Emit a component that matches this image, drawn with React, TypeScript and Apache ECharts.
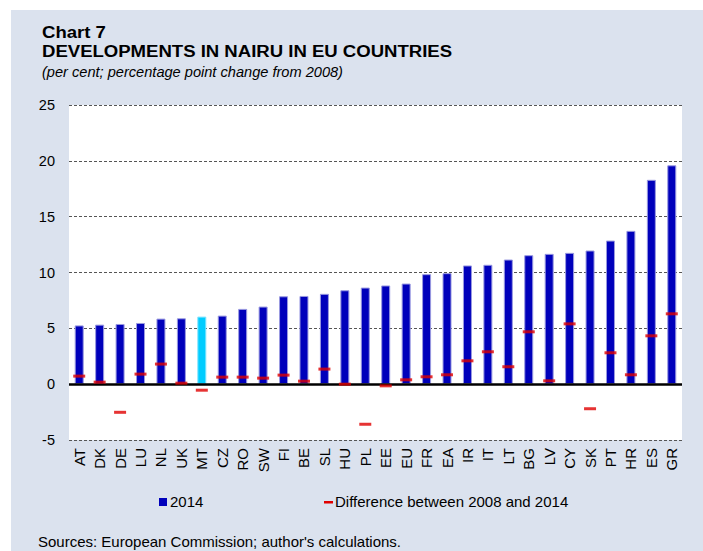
import React, { useEffect, useRef } from "react";
import * as echarts from "echarts";

const categories = ["AT","DK","DE","LU","NL","UK","MT","CZ","RO","SW","FI","BE","SL","HU","PL","EE","EU","FR","EA","IR","IT","LT","BG","LV","CY","SK","PT","HR","ES","GR"];
const nairu2014 = [5.26,5.33,5.39,5.48,5.87,5.9,6.05,6.14,6.74,6.95,7.87,7.9,8.09,8.41,8.65,8.84,9.01,9.85,9.94,10.63,10.69,11.16,11.55,11.67,11.76,11.97,12.86,13.73,18.3,19.6];
const diff0814 = [0.72,0.18,-2.52,0.9,1.8,0.09,-0.54,0.63,0.63,0.54,0.81,0.27,1.35,0.0,-3.59,-0.15,0.39,0.66,0.84,2.09,2.9,1.56,4.69,0.3,5.4,-2.2,2.81,0.84,4.33,6.3];
const highlight = "MT";
const yTicks = { min: -5, max: 25, interval: 5 };

const BG = "#dbe2ee";
const FONT = "Liberation Sans, Arial, sans-serif";

export default function App() {
  const ref = useRef<HTMLDivElement>(null);
  useEffect(() => {
    document.body.style.margin = "0";
    const chart = echarts.init(ref.current!, null, { renderer: "svg" });
    chart.setOption({
      animation: false,
      backgroundColor: "#ffffff",
      textStyle: { fontFamily: FONT },
      grid: { left: 69, right: 21, top: 105, bottom: 111, show: false },
      graphic: [
        { type: "rect", z: -10, shape: { x: 11, y: 10, width: 692, height: 541 }, style: { fill: BG } },
        { type: "rect", z: -9, shape: { x: 69, y: 105, width: 613, height: 335 }, style: { fill: "#ffffff" } },
        { type: "text", x: 42, y: 24, scaleX: 1.16, style: { text: "Chart 7", font: `bold 16px ${FONT}`, fill: "#000" } },
        { type: "text", x: 42, y: 43, scaleX: 1.16, style: { text: "DEVELOPMENTS IN NAIRU IN EU COUNTRIES", font: `bold 16px ${FONT}`, fill: "#000" } },
        { type: "text", x: 42, y: 64, style: { text: "(per cent; percentage point change from 2008)", font: `italic 14.6px ${FONT}`, fill: "#000" } },
        { type: "rect", shape: { x: 159, y: 498, width: 8, height: 8 }, style: { fill: "#0000bb" } },
        { type: "text", x: 170, y: 494, style: { text: "2014", font: `15px ${FONT}`, fill: "#000" } },
        { type: "rect", shape: { x: 324, y: 501, width: 9, height: 2.5 }, style: { fill: "#e00000" } },
        { type: "text", x: 335, y: 494, style: { text: "Difference between 2008 and 2014", font: `15px ${FONT}`, fill: "#000" } },
        { type: "text", x: 38, y: 534, style: { text: "Sources: European Commission; author's calculations.", font: `15px ${FONT}`, fill: "#000" } },
      ],
      xAxis: {
        type: "category",
        data: categories,
        axisLine: { show: false, onZero: false },
        axisTick: { show: false },
        axisLabel: { rotate: 90, margin: 8, fontSize: 15, color: "#000", fontFamily: FONT, interval: 0 },
      },
      yAxis: {
        type: "value",
        min: yTicks.min,
        max: yTicks.max,
        interval: yTicks.interval,
        axisLine: { show: false },
        axisTick: { show: false },
        axisLabel: { margin: 14, fontSize: 14.5, color: "#000", fontFamily: FONT },
        splitLine: { show: true, lineStyle: { type: [3, 2], color: "#555", width: 1 } },
      },
      series: [
        {
          name: "2014",
          type: "bar",
          barWidth: 9,
          data: nairu2014.map((v, i) =>
            categories[i] === highlight
              ? { value: v, itemStyle: { color: "#00ccff", borderColor: "#7fe4ff" } }
              : v
          ),
          itemStyle: { color: "#0000bb", borderColor: "#9a9ae0", borderWidth: 1 },
          markLine: {
            silent: true,
            symbol: "none",
            label: { show: false },
            lineStyle: { color: "#000", type: "solid", width: 2.5 },
            data: [{ yAxis: 0 }],
            z: 3,
          },
        },
        {
          name: "Difference between 2008 and 2014",
          type: "scatter",
          symbol: "rect",
          symbolSize: [12, 3],
          itemStyle: { color: "#e00000" },
          data: diff0814,
          z: 5,
        },
      ],
    });
    return () => chart.dispose();
  }, []);
  return <div ref={ref} style={{ width: 703, height: 551 }} />;
}
